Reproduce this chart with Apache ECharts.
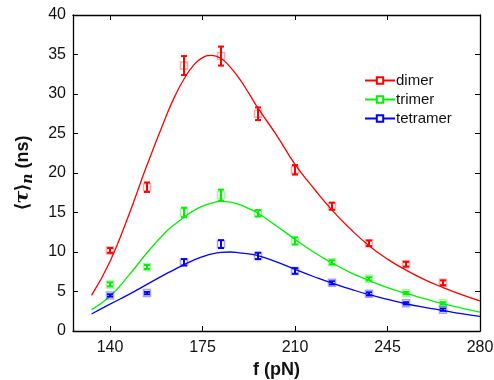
<!DOCTYPE html>
<html>
<head>
<meta charset="utf-8">
<script src="https://cdn.jsdelivr.net/npm/echarts@6/dist/echarts.min.js"></script>
<style>html,body{margin:0;padding:0;background:#fff;}#c{width:494px;height:380px;}</style>
</head>
<body>
<div id="c"></div>
<script>
// measured points
const forces = [140, 154, 168, 182, 196, 210, 224, 238, 252, 266];
const dimerMean = [10.2, 18.2, 33.6, 34.8, 27.5, 20.4, 15.8, 11.1, 8.45, 6.1];
const dimerErr = [0.3, 0.6, 1.2, 1.2, 0.8, 0.6, 0.45, 0.35, 0.3, 0.3];
const trimerMean = [5.9, 8.1, 15.0, 17.2, 14.9, 11.4, 8.7, 6.6, 4.8, 3.5];
const trimerErr = [0.25, 0.25, 0.6, 0.7, 0.4, 0.45, 0.25, 0.2, 0.15, 0.15];
const tetramerMean = [4.5, 4.8, 8.7, 11.0, 9.5, 7.6, 6.1, 4.7, 3.5, 2.7];
const tetramerErr = [0.15, 0.15, 0.4, 0.5, 0.4, 0.35, 0.2, 0.2, 0.15, 0.15];

// fitted curves
const fitForce = [133, 140, 147, 154, 161, 164.5, 168, 171.5, 175, 178.5, 182, 185.5, 189, 192.5, 196, 203, 210, 217, 224, 231, 238, 245, 252, 259, 266, 273, 280];
const dimerFit = [4.5, 8.8, 14.6, 21.0, 27.0, 29.7, 31.9, 33.6, 34.6, 34.9, 34.5, 33.4, 31.9, 30.1, 28.2, 24.8, 21.1, 18.1, 15.3, 12.9, 10.8, 9.1, 7.7, 6.5, 5.5, 4.6, 3.8];
const trimerFit = [2.7, 4.4, 7.0, 9.9, 12.5, 13.5, 14.4, 15.2, 15.8, 16.2, 16.4, 16.3, 16.0, 15.5, 14.9, 13.3, 11.6, 10.0, 8.6, 7.4, 6.4, 5.5, 4.75, 4.1, 3.45, 2.9, 2.4];
const tetramerFit = [2.15, 3.4, 4.6, 5.9, 7.2, 7.8, 8.4, 8.95, 9.4, 9.75, 9.95, 10.0, 9.9, 9.75, 9.55, 8.75, 7.8, 6.9, 6.05, 5.3, 4.6, 4.0, 3.45, 3.0, 2.6, 2.2, 1.85];

const xTicks = [140, 175, 210, 245, 280];
const names = ['dimer', 'trimer', 'tetramer'];
const colors = ['#ff0000', '#00f000', '#0000ff'];
const paleColors = ['rgba(255,0,0,0.45)', 'rgba(0,230,0,0.45)', 'rgba(0,0,255,0.45)'];

const means = [dimerMean, trimerMean, tetramerMean];
const errs = [dimerErr, trimerErr, tetramerErr];
const fits = [dimerFit, trimerFit, tetramerFit];

const series = [];
names.forEach((nm, i) => {
  series.push({
    name: nm, type: 'line', smooth: 0.5,
    data: fitForce.map((f, k) => [f, fits[i][k]]),
    symbol: 'emptyRect', symbolSize: 7, showSymbol: false,
    lineStyle: { color: colors[i], width: 1.3 },
    itemStyle: { color: colors[i], borderColor: paleColors[i], borderWidth: 1.5 },
    z: 2, silent: true
  });
  series.push({
    name: nm + '-pts', type: 'scatter', symbol: 'rect', symbolSize: 7,
    data: forces.map((f, k) => [f, means[i][k]]),
    itemStyle: { color: 'rgba(255,255,255,0)', borderColor: paleColors[i], borderWidth: 1.5 },
    z: 3, silent: true
  });
  series.push({
    name: nm + '-err', type: 'custom',
    data: forces.map((f, k) => [f, means[i][k] - errs[i][k], means[i][k] + errs[i][k]]),
    renderItem: (params, api) => {
      const lo = api.coord([api.value(0), api.value(1)]);
      const hi = api.coord([api.value(0), api.value(2)]);
      const w = 3;
      const st = { stroke: colors[i], lineWidth: 2 };
      return {
        type: 'group',
        children: [
          { type: 'line', shape: { x1: lo[0], y1: lo[1], x2: hi[0], y2: hi[1] }, style: st },
          { type: 'line', shape: { x1: lo[0] - w, y1: lo[1], x2: lo[0] + w, y2: lo[1] }, style: st },
          { type: 'line', shape: { x1: hi[0] - w, y1: hi[1], x2: hi[0] + w, y2: hi[1] }, style: st }
        ]
      };
    },
    z: 4, silent: true
  });
});

const fontF = 'Liberation Sans, Arial, sans-serif';
const chart = echarts.init(document.getElementById('c'));
chart.setOption({
  animation: false,
  backgroundColor: '#fff',
  textStyle: { fontFamily: fontF },
  grid: { left: 73, right: 14, top: 15, bottom: 49, outerBoundsMode: 'none', containLabel: false },
  legend: {
    data: names, orient: 'vertical', left: 359, top: 68,
    itemWidth: 30, itemHeight: 8, itemGap: 4,
    textStyle: { fontSize: 15, color: '#111', fontFamily: fontF, padding: [0, 0, 0, -4] }
  },
  xAxis: [{
    type: 'value', min: 126, max: 280,
    name: 'f (pN)', nameLocation: 'middle', nameGap: 30,
    nameTextStyle: { fontSize: 18, fontWeight: 'bold', color: '#111', fontFamily: fontF },
    axisLine: { show: true, lineStyle: { color: '#000', width: 1.3 } },
    axisTick: { show: true, inside: true, length: 5, customValues: xTicks, lineStyle: { color: '#000' } },
    axisLabel: { fontSize: 16, color: '#111', margin: 9, customValues: xTicks, fontFamily: fontF },
    splitLine: { show: false }
  }, {
    type: 'value', min: 126, max: 280, position: 'top',
    axisLine: { show: true, onZero: false, lineStyle: { color: '#000', width: 1.3 } },
    axisTick: { show: true, inside: true, length: 5, customValues: xTicks, lineStyle: { color: '#000' } },
    axisLabel: { show: false }, splitLine: { show: false }
  }],
  yAxis: [{
    type: 'value', min: 0, max: 40, interval: 5,
    name: '{b|⟨}{t|τ}{b|⟩}{n|n}{b| (ns)}', nameLocation: 'middle', nameRotate: 90, nameGap: 38,
    nameTextStyle: {
      rich: {
        b: { fontSize: 18, fontWeight: 'bold', color: '#111', fontFamily: fontF },
        t: { fontSize: 19, fontWeight: 'bold', fontStyle: 'italic', color: '#111', fontFamily: 'DejaVu Serif, serif' },
        n: { fontSize: 14, fontWeight: 'bold', fontStyle: 'italic', color: '#111', fontFamily: 'DejaVu Serif, serif', padding: [10, 0, 0, 0] }
      }
    },
    axisLine: { show: true, onZero: false, lineStyle: { color: '#000', width: 1.3 } },
    axisTick: { show: true, inside: true, length: 5, lineStyle: { color: '#000' } },
    axisLabel: { fontSize: 16, color: '#111', margin: 7, fontFamily: fontF },
    splitLine: { show: false }
  }, {
    type: 'value', min: 0, max: 40, interval: 5, position: 'right',
    axisLine: { show: true, onZero: false, lineStyle: { color: '#000', width: 1.3 } },
    axisTick: { show: true, inside: true, length: 5, lineStyle: { color: '#000' } },
    axisLabel: { show: false }, splitLine: { show: false }
  }],
  series: series
});
</script>
</body>
</html>
